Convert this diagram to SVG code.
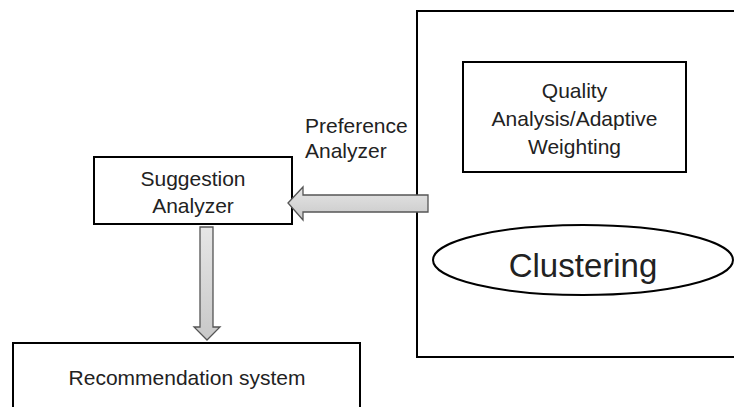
<svg xmlns="http://www.w3.org/2000/svg" width="734" height="407" viewBox="0 0 734 407">
<style>
.box{fill:#fff;stroke:#000;stroke-width:2}
.t{font-family:"Liberation Sans",Arial,sans-serif;font-size:21px;fill:#222;text-anchor:middle}
.arrow{fill:url(#g);stroke:#555;stroke-width:1.3;stroke-linejoin:miter}
</style>
<defs>
<linearGradient id="g" x1="0" y1="0" x2="0" y2="1">
<stop offset="0" stop-color="#e6e6e6"/>
<stop offset="1" stop-color="#c8c8c8"/>
</linearGradient>
</defs>
<rect width="734" height="407" fill="#fff"/>
<g id="clusterGroup">
<rect class="box" x="417" y="11" width="330" height="346"/>
</g>
<g id="quality">
<rect class="box" x="463" y="62" width="223" height="110"/>
<text class="t" x="574.5" y="98">Quality</text>
<text class="t" x="574.5" y="126">Analysis/Adaptive</text>
<text class="t" x="574.5" y="154">Weighting</text>
</g>
<g id="clustering">
<ellipse cx="583" cy="260" rx="150" ry="35" fill="#fff" stroke="#000" stroke-width="2"/>
<text class="t" x="583" y="277" style="font-size:33px">Clustering</text>
</g>
<g id="suggestion">
<rect class="box" x="94" y="157" width="198" height="67"/>
<text class="t" x="193" y="186">Suggestion</text>
<text class="t" x="193" y="213">Analyzer</text>
</g>
<g id="recommendation">
<rect class="box" x="13" y="343" width="347" height="80"/>
<text class="t" x="187" y="385">Recommendation system</text>
</g>
<g id="connectors">
<polygon class="arrow" points="288,203 303,187 303,195 428,195 428,212 303,212 303,220"/>
<polygon class="arrow" points="200,227 213,227 213,327 220,327 207,340 194,327 200,327"/>
<text class="t" x="305" y="133" style="text-anchor:start">Preference</text>
<text class="t" x="305" y="158" style="text-anchor:start">Analyzer</text>
</g>
</svg>
